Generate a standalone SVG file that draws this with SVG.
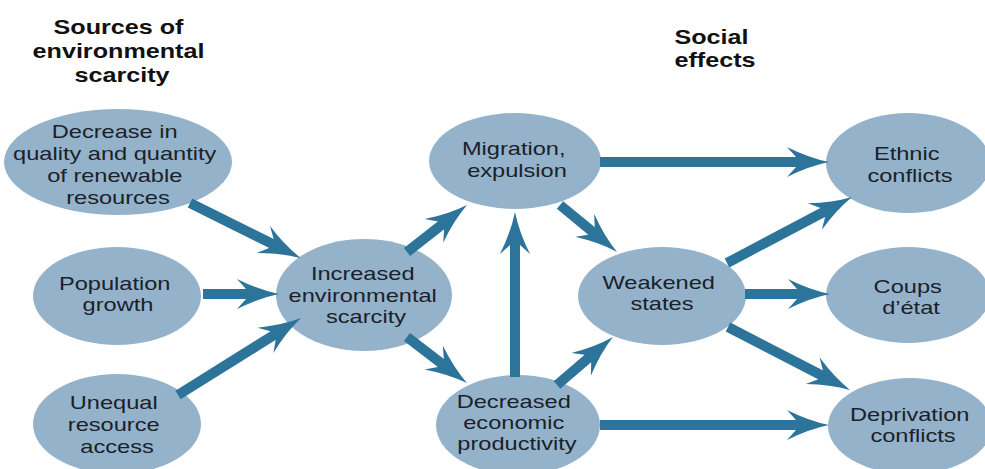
<svg xmlns="http://www.w3.org/2000/svg" width="985" height="469" viewBox="0 0 985 469">
  <style>
    .node ellipse { fill: #94b3cb; }
    .lbl { font-family: "Liberation Sans", Arial, sans-serif; font-size: 17.5px; fill: #1b2129; text-anchor: middle; }
    .ttl { font-family: "Liberation Sans", Arial, sans-serif; font-size: 19.5px; font-weight: bold; fill: #111; text-anchor: middle; }
    .conn line { stroke: #2c7499; stroke-width: 10; marker-end: url(#head); }
  </style>
  <defs>
    <!-- barbed arrowhead; tip sits 30px ahead of the line end -->
    <marker id="head" markerUnits="userSpaceOnUse" orient="auto" refX="-30" refY="0" markerWidth="1" markerHeight="1" overflow="visible">
      <path d="M0 0 Q-20 -4 -42 -15 L-33 -5 L-33 5 L-42 15 Q-20 4 0 0 Z" fill="#2c7499"/>
    </marker>
  </defs>
  <rect width="985" height="469" fill="#fff"/>

  <!-- column headings -->
  <g id="heading-sources">
    <text class="ttl" transform="translate(122 0) scale(1.29 1)">
      <tspan x="0" y="34">Sources of</tspan>
      <tspan x="0" y="58">environmental</tspan>
      <tspan x="0" y="82">scarcity</tspan>
    </text>
  </g>
  <g id="heading-social">
    <text class="ttl" transform="translate(715 0) scale(1.29 1)">
      <tspan x="0" y="44">Social</tspan>
      <tspan x="0" y="67">effects</tspan>
    </text>
  </g>

  <!-- nodes -->
  <g id="n-decrease" class="node">
    <ellipse cx="118" cy="162" rx="114" ry="53"/>
    <text class="lbl" transform="translate(118 0) scale(1.35 1)">
      <tspan x="0" y="138">Decrease in</tspan>
      <tspan x="0" y="160">quality and quantity</tspan>
      <tspan x="0" y="182">of renewable</tspan>
      <tspan x="0" y="204">resources</tspan>
    </text>
  </g>
  <g id="n-population" class="node">
    <ellipse cx="117" cy="296" rx="84" ry="49"/>
    <text class="lbl" transform="translate(118 0) scale(1.35 1)">
      <tspan x="0" y="290">Population</tspan>
      <tspan x="0" y="311">growth</tspan>
    </text>
  </g>
  <g id="n-unequal" class="node">
    <ellipse cx="117" cy="424" rx="84" ry="50"/>
    <text class="lbl" transform="translate(117 0) scale(1.35 1)">
      <tspan x="0" y="409">Unequal</tspan>
      <tspan x="0" y="431">resource</tspan>
      <tspan x="0" y="453">access</tspan>
    </text>
  </g>
  <g id="n-scarcity" class="node">
    <ellipse cx="364" cy="295" rx="88" ry="56"/>
    <text class="lbl" transform="translate(366 0) scale(1.35 1)">
      <tspan x="0" y="280">Increased</tspan>
      <tspan x="0" y="302">environmental</tspan>
      <tspan x="0" y="323">scarcity</tspan>
    </text>
  </g>
  <g id="n-migration" class="node">
    <ellipse cx="515" cy="161" rx="86" ry="48"/>
    <text class="lbl" transform="translate(517 0) scale(1.35 1)">
      <tspan x="0" y="155">Migration,</tspan>
      <tspan x="0" y="177">expulsion</tspan>
    </text>
  </g>
  <g id="n-weakened" class="node">
    <ellipse cx="662" cy="296" rx="84" ry="49"/>
    <text class="lbl" transform="translate(662 0) scale(1.35 1)">
      <tspan x="0" y="289">Weakened</tspan>
      <tspan x="0" y="310">states</tspan>
    </text>
  </g>
  <g id="n-economic" class="node">
    <ellipse cx="518" cy="425" rx="82" ry="50"/>
    <text class="lbl" transform="translate(517 0) scale(1.35 1)">
      <tspan x="0" y="408">Decreased</tspan>
      <tspan x="0" y="429">economic</tspan>
      <tspan x="0" y="450">productivity</tspan>
    </text>
  </g>
  <g id="n-ethnic" class="node">
    <ellipse cx="908" cy="163" rx="82" ry="50"/>
    <text class="lbl" transform="translate(910 0) scale(1.35 1)">
      <tspan x="0" y="160">Ethnic</tspan>
      <tspan x="0" y="182">conflicts</tspan>
    </text>
  </g>
  <g id="n-coups" class="node">
    <ellipse cx="908" cy="295" rx="82" ry="48"/>
    <text class="lbl" transform="translate(911 0) scale(1.35 1)">
      <tspan x="0" y="293">Coups</tspan>
      <tspan x="0" y="314">d’état</tspan>
    </text>
  </g>
  <g id="n-deprivation" class="node">
    <ellipse cx="910" cy="426" rx="82" ry="48"/>
    <text class="lbl" transform="translate(913 0) scale(1.35 1)">
      <tspan x="0" y="421">Deprivation</tspan>
      <tspan x="0" y="442">conflicts</tspan>
    </text>
  </g>

  <!-- connectors -->
  <g id="connectors" class="conn">
    <line x1="190" y1="203" x2="274.1" y2="244.8"/>
    <line x1="203" y1="294" x2="249" y2="294"/>
    <line x1="178" y1="395" x2="275.6" y2="334"/>
    <line x1="407" y1="252" x2="443.4" y2="223.5"/>
    <line x1="407" y1="337" x2="443.2" y2="364.8"/>
    <line x1="515" y1="377" x2="515" y2="242"/>
    <line x1="560" y1="205" x2="593.9" y2="232.9"/>
    <line x1="557" y1="385" x2="590.2" y2="356.5"/>
    <line x1="600" y1="162" x2="799" y2="162"/>
    <line x1="600" y1="425" x2="799" y2="425"/>
    <line x1="727" y1="263" x2="825.5" y2="211"/>
    <line x1="745" y1="294" x2="800" y2="294"/>
    <line x1="728" y1="327" x2="823.3" y2="376.2"/>
  </g>
</svg>
